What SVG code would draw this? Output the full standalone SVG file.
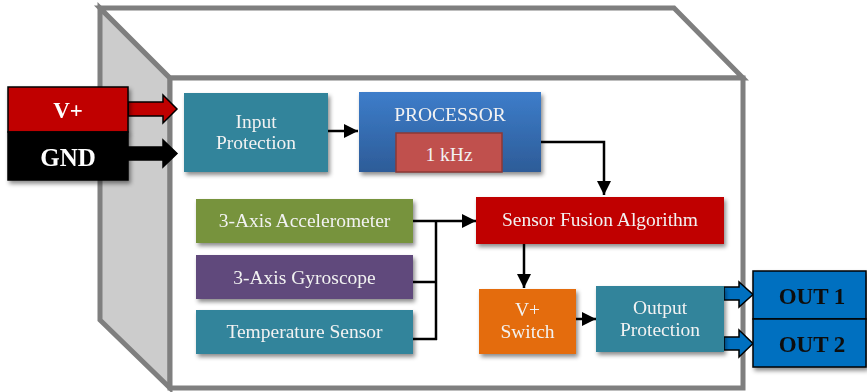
<svg xmlns="http://www.w3.org/2000/svg" width="867" height="392" viewBox="0 0 867 392">
  <defs>
    <filter id="sh" x="-10%" y="-10%" width="130%" height="140%">
      <feDropShadow dx="2" dy="3" stdDeviation="2" flood-color="#000" flood-opacity="0.45"/>
    </filter>
    <linearGradient id="procGrad" x1="0" y1="0" x2="0" y2="1">
      <stop offset="0" stop-color="#3D7DCA"/>
      <stop offset="1" stop-color="#2D5C98"/>
    </linearGradient>
    <marker id="ah" markerUnits="userSpaceOnUse" markerWidth="14" markerHeight="14" refX="14" refY="7" orient="auto">
      <path d="M0,0 L14,7 L0,14 z" fill="#000"/>
    </marker>
    <style>
      .case { stroke: #7F7F7F; stroke-width: 5; stroke-linejoin: miter; }
      .node { filter: url(#sh); }
      .t { font-family: "Liberation Serif", "Times New Roman", serif; font-size: 19.5px; fill: #F2F2F2; text-anchor: middle; }
      .tb { font-family: "Liberation Serif", "Times New Roman", serif; font-weight: bold; text-anchor: middle; }
      .conn { stroke: #000; stroke-width: 2.5; fill: none; }
      .blk { stroke: #000; stroke-width: 1.5; stroke-linejoin: miter; }
    </style>
  </defs>

  <g id="enclosure">
    <polygon class="case" points="100,8 170,78 170,388 100,320" fill="#CCCCCC"/>
    <polygon class="case" points="100,8 674,8 743,78 170,78" fill="#FFFFFF"/>
    <rect class="case" x="170" y="78" width="573" height="310" fill="#FFFFFF"/>
  </g>

  <g id="connectors">
    <line class="conn" x1="328" y1="131" x2="358" y2="131" marker-end="url(#ah)"/>
    <polyline class="conn" points="541,142 604,142 604,195" marker-end="url(#ah)"/>
    <line class="conn" x1="413" y1="221" x2="436" y2="221"/>
    <line class="conn" x1="413" y1="282" x2="436" y2="282"/>
    <line class="conn" x1="413" y1="339" x2="437" y2="339"/>
    <line class="conn" x1="436" y1="220" x2="436" y2="340"/>
    <line class="conn" x1="436" y1="221" x2="476" y2="221" marker-end="url(#ah)"/>
    <line class="conn" x1="524" y1="244" x2="524" y2="288" marker-end="url(#ah)"/>
    <line class="conn" x1="576" y1="319" x2="596" y2="319" marker-end="url(#ah)"/>
    <polygon class="blk" points="128,102 163,102 163,95 177,109 163,123 163,116 128,116" fill="#C00000"/>
    <polygon class="blk" points="128,147 163,147 163,140 177,153.5 163,167 163,160 128,160" fill="#000000"/>
    <polygon class="blk" points="724,287 739,287 739,282 753,294.5 739,307 739,300 724,300" fill="#0070C0"/>
    <polygon class="blk" points="724,337 739,337 739,330 753,343.5 739,357 739,350 724,350" fill="#0070C0"/>
  </g>

  <g id="vplus" class="node">
    <rect x="8" y="87" width="120" height="45" fill="#C00000" stroke="#000" stroke-width="1.5"/>
    <text class="tb" x="68" y="118" font-size="23" fill="#FFFFFF">V+</text>
  </g>
  <g id="gnd" class="node">
    <rect x="8" y="132" width="120" height="48" fill="#000000" stroke="#000" stroke-width="1.5"/>
    <text class="tb" x="68" y="166" font-size="25" fill="#FFFFFF">GND</text>
  </g>

  <g id="input-protection" class="node">
    <rect x="184" y="93" width="144" height="79" fill="#31849B"/>
    <text class="t" x="256" y="128">Input</text>
    <text class="t" x="256" y="149">Protection</text>
  </g>

  <g id="processor" class="node">
    <rect x="359" y="92" width="182" height="80" fill="url(#procGrad)"/>
    <text class="t" x="450" y="121">PROCESSOR</text>
  </g>
  <g id="clock">
    <rect x="396" y="133" width="106" height="39" fill="#C0504D" stroke="#8C3836" stroke-width="1.5"/>
    <text class="t" x="449" y="161">1 kHz</text>
  </g>

  <g id="sensor-fusion" class="node">
    <rect x="476" y="197" width="248" height="47" fill="#C00000"/>
    <text class="t" x="600" y="226">Sensor Fusion Algorithm</text>
  </g>

  <g id="accelerometer" class="node">
    <rect x="196" y="199" width="217" height="44" fill="#77933C"/>
    <text class="t" x="304.5" y="227">3-Axis Accelerometer</text>
  </g>
  <g id="gyroscope" class="node">
    <rect x="196" y="255" width="217" height="44" fill="#604A7B"/>
    <text class="t" x="304.5" y="284">3-Axis Gyroscope</text>
  </g>
  <g id="temperature" class="node">
    <rect x="196" y="310" width="217" height="44" fill="#31849B"/>
    <text class="t" x="304.5" y="338">Temperature Sensor</text>
  </g>

  <g id="vplus-switch" class="node">
    <rect x="479" y="289" width="97" height="65" fill="#E46C0A"/>
    <text class="t" x="527.5" y="316">V+</text>
    <text class="t" x="527.5" y="338">Switch</text>
  </g>

  <g id="output-protection" class="node">
    <rect x="596" y="286" width="128" height="66" fill="#31849B"/>
    <text class="t" x="660" y="314">Output</text>
    <text class="t" x="660" y="336">Protection</text>
  </g>

  <g id="out1" class="node">
    <rect x="753" y="271" width="113" height="48" fill="#0070C0" stroke="#000" stroke-width="1.5"/>
    <text class="tb" x="812" y="304" font-size="23" fill="#0D0D0D">OUT 1</text>
  </g>
  <g id="out2" class="node">
    <rect x="753" y="319" width="113" height="48" fill="#0070C0" stroke="#000" stroke-width="1.5"/>
    <text class="tb" x="812" y="352" font-size="23" fill="#0D0D0D">OUT 2</text>
  </g>
</svg>
